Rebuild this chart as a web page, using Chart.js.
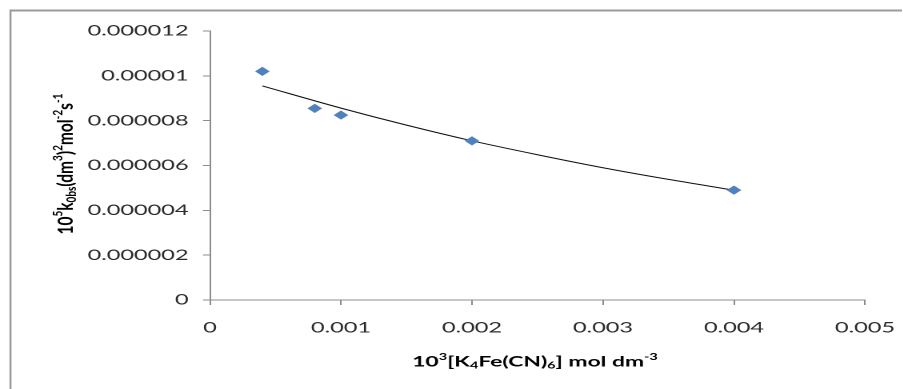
<!DOCTYPE html>
<html>
<head>
<meta charset="utf-8">
<script src="https://cdn.jsdelivr.net/npm/chart.js@4.4.1/dist/chart.umd.min.js"></script>
<style>
  html, body { margin: 0; padding: 0; background: #fff; overflow: hidden; }
  #wrap { position: absolute; left: 0; top: 0; width: 564px; height: 389px; transform: scaleX(1.6); transform-origin: 0 0; }
</style>
</head>
<body>
<div id="wrap"><canvas id="chart"></canvas></div>
<script>
// measured points
const concX = [0.0004, 0.0008, 0.001, 0.002, 0.004];
const kObs = [0.0000102, 0.00000855, 0.00000825, 0.0000071, 0.0000049];

// trend line
const trendX = [0.0004, 0.001, 0.0015, 0.002, 0.0025, 0.003, 0.0035, 0.004];
const trendY = [0.00000955, 0.00000856, 0.0000078, 0.0000071, 0.00000648, 0.0000059, 0.00000538, 0.0000049];

const xTicks = [0, 0.001, 0.002, 0.003, 0.004, 0.005];
const xTickLabels = ['0', '0.001', '0.002', '0.003', '0.004', '0.005'];
const yTicks = [0, 0.000002, 0.000004, 0.000006, 0.000008, 0.00001, 0.000012];
const yTickLabels = ['0', '0.000002', '0.000004', '0.000006', '0.000008', '0.00001', '0.000012'];

// axis titles, [text, 'sup' | 'sub' | '']
const xTitle = [['10', ''], ['3', 'sup'], ['[K', ''], ['4', 'sub'], ['Fe(CN)', ''], ['6', 'sub'], ['] mol dm', ''], ['-3', 'sup']];
const yTitle = [['10', ''], ['5', 'sup'], ['k', ''], ['0bs', 'sub'], ['(dm', ''], ['3', 'sup'], [')', ''], ['2', 'sup'], ['mol', ''], ['-2', 'sup'], ['s', ''], ['-1', 'sup']];

const S = 1.6;
const W = 564;
const TITLE_FONT = 'Lato, "Liberation Sans", sans-serif';

function drawRich(ctx, parts, cx, cy, size) {
    const fontFor = t => `bold ${t ? Math.round(size * 0.62) : size}px ${TITLE_FONT}`;
    let total = 0;
    parts.forEach(([txt, t]) => { ctx.font = fontFor(t); total += ctx.measureText(txt).width; });
    let x = cx - total / 2;
    ctx.textBaseline = 'middle';
    ctx.textAlign = 'left';
    ctx.fillStyle = '#000';
    parts.forEach(([txt, t]) => {
        ctx.font = fontFor(t);
        const dy = t === 'sup' ? -size * 0.36 : t === 'sub' ? size * 0.24 : 0;
        ctx.fillText(txt, x, cy + dy);
        x += ctx.measureText(txt).width;
    });
}

const decor = {
    id: 'decor',
    afterDraw(chart) {
        const ctx = chart.ctx;
        ctx.save();
        // frame
        ctx.fillStyle = '#9a9a9a';
        ctx.fillRect(10 / S, 9.5, W, 2);
        ctx.fillRect(9.5 / S, 9.5, 2 / S, 389);
        // titles
        drawRich(ctx, xTitle, 535 / S, 362, 14.3);
        ctx.translate(66 / S, 164);
        ctx.scale(1 / 1.15, 1);
        ctx.rotate(-Math.PI / 2);
        drawRich(ctx, yTitle, 0, 0, 15.5);
        ctx.restore();
    }
};

new Chart(document.getElementById('chart'), {
    type: 'scatter',
    data: {
        datasets: [
            {
                data: concX.map((x, i) => ({ x, y: kObs[i] })),
                pointStyle: 'rectRot',
                pointRadius: 4.6,
                pointHoverRadius: 4.6,
                backgroundColor: '#4F81BD',
                borderColor: '#4F81BD',
                borderWidth: 0,
                order: 1
            },
            {
                type: 'line',
                data: trendX.map((x, i) => ({ x, y: trendY[i] })),
                borderColor: '#111',
                borderWidth: 1,
                pointRadius: 0,
                cubicInterpolationMode: 'monotone',
                fill: false,
                order: 2
            }
        ]
    },
    options: {
        responsive: true,
        maintainAspectRatio: false,
        animation: false,
        devicePixelRatio: 2,
        layout: { padding: { left: 0, top: 31, right: W - 865 / S, bottom: 0 } },
        plugins: { legend: { display: false }, tooltip: { enabled: false } },
        scales: {
            x: {
                type: 'linear',
                min: 0, max: 0.005,
                afterBuildTicks: s => { s.ticks = xTicks.map(v => ({ value: v })); },
                afterFit: s => { s.height = 89; s.paddingLeft = 0; s.paddingRight = 0; },
                grid: { drawOnChartArea: false, drawTicks: true, tickLength: 5, color: '#8c8c8c' },
                border: { color: '#8c8c8c', width: 1 },
                ticks: {
                    padding: 14,
                    color: '#2a2a2a',
                    font: { family: 'Lato', size: 14.7 },
                    maxRotation: 0,
                    callback: (v, i) => xTickLabels[i]
                }
            },
            y: {
                type: 'linear',
                min: 0, max: 0.000012,
                afterBuildTicks: s => { s.ticks = yTicks.map(v => ({ value: v })); },
                afterFit: s => { s.width = 210 / S; },
                grid: { drawOnChartArea: false, drawTicks: true, tickLength: 4.4, color: '#8c8c8c' },
                border: { color: '#8c8c8c', width: 1 },
                ticks: {
                    padding: 9,
                    color: '#2a2a2a',
                    font: { family: 'Lato', size: 14.7 },
                    callback: (v, i) => yTickLabels[i]
                }
            }
        }
    },
    plugins: [decor]
});
</script>
</body>
</html>
